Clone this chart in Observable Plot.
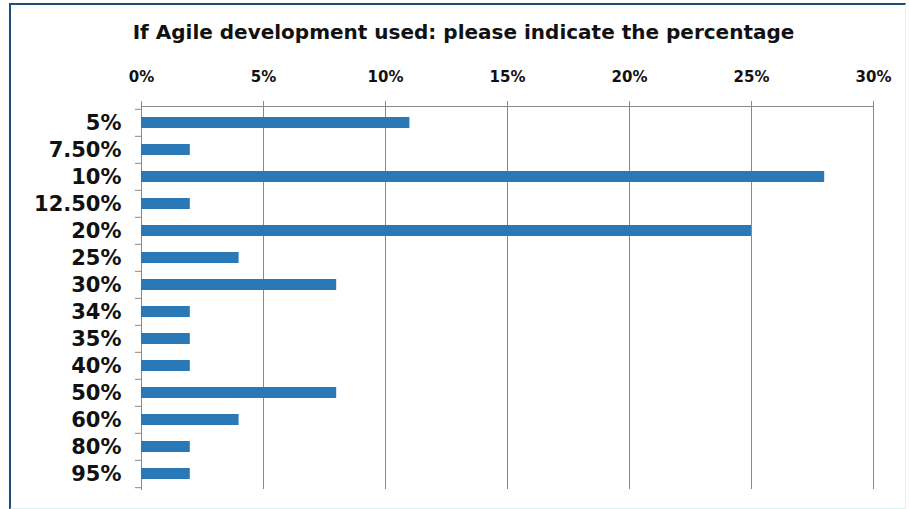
<!DOCTYPE html>
<html>
<head>
<meta charset="utf-8">
<script src="https://cdn.jsdelivr.net/npm/d3@7"></script>
<script src="https://cdn.jsdelivr.net/npm/@observablehq/plot@0.6"></script>
<style>
  html, body { margin: 0; padding: 0; background: #fff; }
  #frame {
    position: absolute; left: 9px; top: 3px; width: 894px; height: 503px;
    border-top: 2px solid #1f4e79; border-left: 2px solid #1f4e79;
    border-right: 1px solid #e8f2f4; border-bottom: 2px solid #dff0f2;
    background: #fff; overflow: hidden;
  }
  #title {
    position: absolute; left: 0; top: 20px; width: 927px; text-align: center;
    font-family: "DejaVu Sans", Verdana, sans-serif; font-weight: bold; font-size: 20px; color: #111;
  }
  #chart { position: absolute; left: 0; top: 50px; }
</style>
</head>
<body>
<div id="frame"></div>
<div id="title">If Agile development used: please indicate the percentage</div>
<div id="chart"></div>
<script>
const categories = ["5%", "7.50%", "10%", "12.50%", "20%", "25%", "30%", "34%", "35%", "40%", "50%", "60%", "80%", "95%"];
const shares = [11, 2, 28, 2, 25, 4, 8, 2, 2, 2, 8, 4, 2, 2];
const xTicks = [0, 5, 10, 15, 20, 25, 30];

const data = categories.map((c, i) => ({category: c, share: shares[i]}));

const W = 909, H = 450, mt = 56, mb = 11, ml = 141, mr = 36;
const step = (H - mt - mb) / categories.length;
const font = "DejaVu Sans, Verdana, sans-serif";

const chart = Plot.plot({
  width: W, height: H,
  marginTop: mt, marginBottom: mb, marginLeft: ml, marginRight: mr,
  style: {fontFamily: font, background: "transparent"},
  x: {domain: [0, 30], axis: null, label: null},
  y: {domain: categories, paddingInner: 0.6, paddingOuter: 0.3, axis: null, label: null},
  marks: [
    Plot.gridX(xTicks, {stroke: "#8a8a8a", strokeOpacity: 1, strokeWidth: 1}),
    Plot.frame({anchor: "top", stroke: "#8a8a8a"}),
    Plot.frame({anchor: "left", stroke: "#8a8a8a"}),
    Plot.barX(data, {y: "category", x: "share", fill: "#2a78b6"}),
    Plot.axisX({anchor: "top", ticks: xTicks, tickSize: 6, tickPadding: 19, label: null,
      tickFormat: d => d + "%", stroke: "#8a8a8a", fill: "#111",
      fontSize: 15, fontWeight: "bold"}),
    Plot.axisY({anchor: "left", tickSize: 6, dy: -step / 2, text: null, label: null, stroke: "#8a8a8a"}),
    Plot.axisY({anchor: "left", ticks: [categories[categories.length - 1]], tickSize: 6, dy: step / 2, text: null, label: null, stroke: "#8a8a8a"}),
    Plot.axisY({anchor: "left", tickSize: 0, tickPadding: 20, label: null, fill: "#111",
      fontSize: 21, fontWeight: "bold"})
  ]
});
document.getElementById("chart").appendChild(chart);
</script>
</body>
</html>
